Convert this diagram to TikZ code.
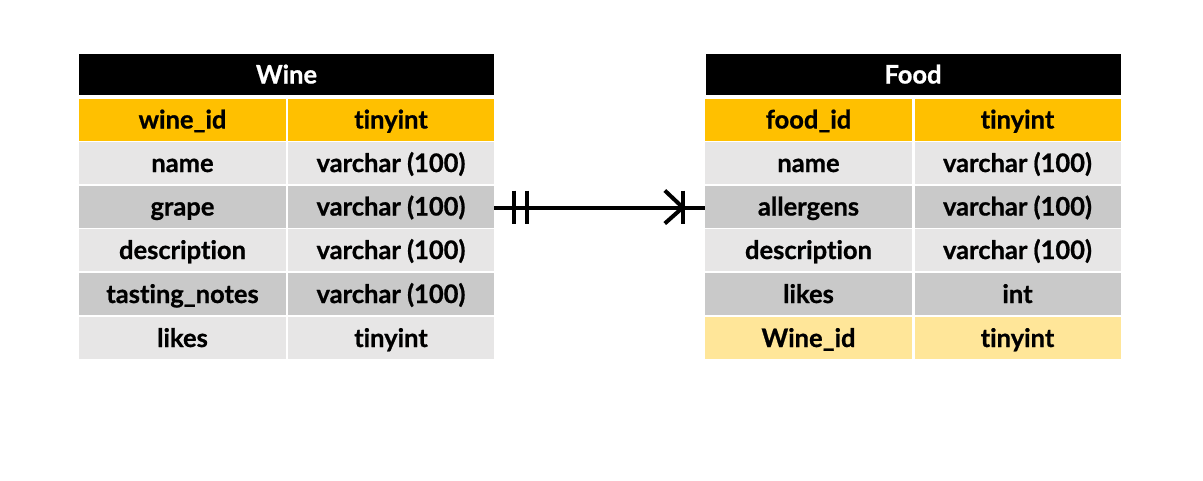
\documentclass[tikz,border=0pt]{standalone}
\usepackage{fontspec}
\setmainfont{Lato}[Ligatures={NoCommon}, BoldFeatures={FakeBold=0.8}]
\usetikzlibrary{calc}
\definecolor{keycol}{HTML}{FFC000}
\definecolor{lightrow}{HTML}{E7E6E6}
\definecolor{darkrow}{HTML}{C9C9C9}
\definecolor{fkcol}{HTML}{FFE699}
\begin{document}
\begin{tikzpicture}[x=1pt,y=-1pt,
  cell/.style={inner sep=0pt, minimum height=42pt, text height=22pt, text depth=4pt,
    font=\fontsize{25.5}{28}\selectfont\bfseries, anchor=center},
  lcell/.style={cell, minimum width=207pt},
  rcell/.style={cell, minimum width=206pt},
  head/.style={cell, fill=black, text=white, minimum width=415pt, minimum height=41pt},
  keyrow/.style={fill=keycol},
  lrow/.style={fill=lightrow},
  drow/.style={fill=darkrow},
  fkrow/.style={fill=fkcol},
  rel/.style={line width=4pt, black},
]
\useasboundingbox (0,0) rectangle (1203,480);
\fill[white] (0,0) rectangle (1203,480);

% Wine table
\node[head] (wh) at (286.5,74.5) {Wine};
\node[lcell,keyrow] (w1a) at (182.5,119.5) {wine\_id};
\node[rcell,keyrow] (w1b) at (391,119.5) {tinyint};
\node[lcell,lrow] (w2a) at (182.5,163) {name};
\node[rcell,lrow] (w2b) at (391,163) {varchar (100)};
\node[lcell,drow] (w3a) at (182.5,206.5) {grape};
\node[rcell,drow] (w3b) at (391,206.5) {varchar (100)};
\node[lcell,lrow] (w4a) at (182.5,250) {description};
\node[rcell,lrow] (w4b) at (391,250) {varchar (100)};
\node[lcell,drow] (w5a) at (182.5,294) {tasting\_notes};
\node[rcell,drow] (w5b) at (391,294) {varchar (100)};
\node[lcell,lrow] (w6a) at (182.5,338) {likes};
\node[rcell,lrow] (w6b) at (391,338) {tinyint};

% Food table
\node[head] (fh) at (913,74.5) {Food};
\node[lcell,keyrow] (f1a) at (808.5,119.5) {food\_id};
\node[rcell,keyrow] (f1b) at (1017.5,119.5) {tinyint};
\node[lcell,lrow] (f2a) at (808.5,163) {name};
\node[rcell,lrow] (f2b) at (1017.5,163) {varchar (100)};
\node[lcell,drow] (f3a) at (808.5,206.5) {allergens};
\node[rcell,drow] (f3b) at (1017.5,206.5) {varchar (100)};
\node[lcell,lrow] (f4a) at (808.5,250) {description};
\node[rcell,lrow] (f4b) at (1017.5,250) {varchar (100)};
\node[lcell,drow] (f5a) at (808.5,294) {likes};
\node[rcell,drow] (f5b) at (1017.5,294) {int};
\node[lcell,fkrow] (f6a) at (808.5,338) {Wine\_id};
\node[rcell,fkrow] (f6b) at (1017.5,338) {tinyint};

% Relationship
\draw[rel] ($(w3b.east)+(0,1)$) -- ($(f3a.west)+(0,1)$);
\draw[rel] ($(w3b.east)+(20,-16)$) -- ($(w3b.east)+(20,17)$);
\draw[rel] ($(w3b.east)+(33,-16)$) -- ($(w3b.east)+(33,17)$);
\draw[rel] ($(f3a.west)+(-22,-16)$) -- ($(f3a.west)+(-22,17)$);
\draw[rel] ($(f3a.west)+(-40,-16)$) -- ($(f3a.west)+(-22,1)$) -- ($(f3a.west)+(-40,17)$);
\end{tikzpicture}
\end{document}
